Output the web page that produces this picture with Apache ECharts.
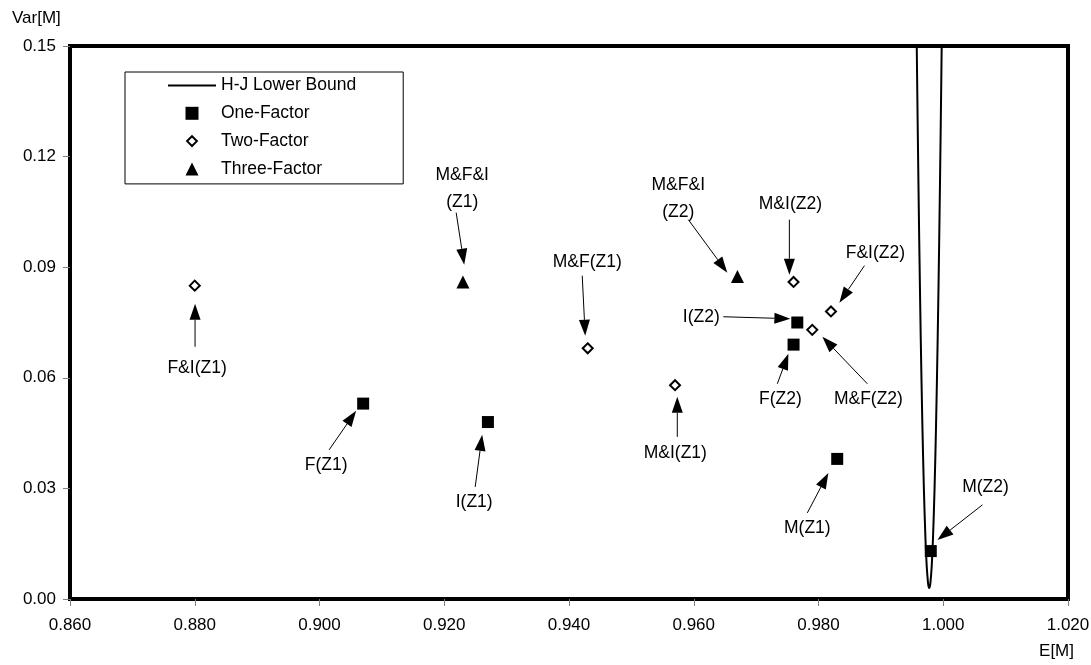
<!DOCTYPE html>
<html><head><meta charset="utf-8">
<script src="https://cdn.jsdelivr.net/npm/echarts@6/dist/echarts.min.js"></script>
<style>html,body{margin:0;padding:0;background:#fff}#c{width:1091px;height:665px}</style>
</head><body><div id="c"></div>
<script>
// ---- axis ticks ----
const xTicks = [0.860, 0.880, 0.900, 0.920, 0.940, 0.960, 0.980, 1.000, 1.020];
const yTicks = [0.00, 0.03, 0.06, 0.09, 0.12, 0.15];

// ---- H-J lower bound ----
const hjE   = [0.99570,0.99590,0.99615,0.99640,0.99665,0.99690,0.99715,0.99735,0.99755,0.99765,0.99775,0.99785,0.99795,0.99815,0.99835,0.99860,0.99885,0.99910,0.99935,0.99960,0.99980];
const hjVar = [0.1574,0.1288,0.0971,0.0700,0.0475,0.0296,0.0162,0.0089,0.0045,0.0034,0.0030,0.0034,0.0045,0.0089,0.0162,0.0296,0.0475,0.0700,0.0971,0.1288,0.1574];

// ---- one-factor models ----
const oneNames = ['F(Z1)','I(Z1)','M(Z1)','F(Z2)','I(Z2)','M(Z2)'];
const oneE     = [0.907, 0.927, 0.983, 0.976, 0.9766, 0.998];
const oneVar   = [0.053, 0.048, 0.038, 0.069, 0.075, 0.013];

// ---- two-factor models ----
const twoNames = ['F&I(Z1)','M&F(Z1)','M&I(Z1)','M&I(Z2)','F&I(Z2)','M&F(Z2)'];
const twoE     = [0.880, 0.943, 0.957, 0.976, 0.982, 0.979];
const twoVar   = [0.085, 0.068, 0.058, 0.086, 0.078, 0.073];

// ---- three-factor models ----
const threeNames = ['M&F&I(Z1)','M&F&I(Z2)'];
const threeE     = [0.923, 0.967];
const threeVar   = [0.086, 0.0875];

// ---- annotation texts & anchors (data units) ----
const noteText  = ['M&F&I\n(Z1)','F&I(Z1)','F(Z1)','I(Z1)','M&F(Z1)','M&I(Z1)','M&F&I\n(Z2)','M&I(Z2)','F&I(Z2)','I(Z2)','F(Z2)','M&F(Z2)','M(Z1)','M(Z2)'];
const noteE     = [0.92288,0.88037,0.90106,0.92480,0.94293,0.95704,0.95752,0.97549,0.98912,0.96121,0.97388,0.98800,0.97821,1.00677];
const noteVar   = [0.11131,0.06272,0.03638,0.02633,0.09149,0.03964,0.10860,0.10697,0.09367,0.07656,0.05430,0.05430,0.01928,0.03041];
const fromE     = [0.92191,0.88005,0.90154,0.92496,0.94212,0.95736,0.95913,0.97533,0.98736,0.96474,0.97340,0.98784,0.97821,1.00628];
const fromVar   = [0.10480,0.06842,0.04045,0.03041,0.08769,0.04398,0.10290,0.10290,0.09041,0.07656,0.05837,0.05837,0.02335,0.02552];
const toE       = [0.92320,0.88005,0.90587,0.92608,0.94260,0.95736,0.96538,0.97533,0.98335,0.97549,0.97517,0.98062,0.98158,0.99907];
const toVar     = [0.09068,0.08009,0.05104,0.04452,0.07140,0.05484,0.08851,0.08796,0.08036,0.07602,0.06652,0.07113,0.03421,0.01602];

const FONT = '"Liberation Sans", Arial, sans-serif';
const zip = (a, b) => a.map((v, i) => [v, b[i]]);

const chart = echarts.init(document.getElementById('c'), null, {renderer: 'canvas'});
chart.setOption({
  animation: false,
  backgroundColor: '#fff',
  grid: {left: 70, right: 23, top: 46, bottom: 66, show: true, borderColor: '#000', borderWidth: 4, outerBoundsMode: 'none', containLabel: false},
  xAxis: {
    type: 'value', min: xTicks[0], max: xTicks[xTicks.length - 1], interval: xTicks[1] - xTicks[0],
    axisLine: {show: true, onZero: false, lineStyle: {color: '#000', width: 4}},
    axisTick: {show: true, length: 7, lineStyle: {color: '#808080', width: 1}},
    axisLabel: {color: '#000', fontSize: 17, fontFamily: FONT, margin: 18, formatter: v => v.toFixed(3)},
    splitLine: {show: false}
  },
  yAxis: {
    type: 'value', min: yTicks[0], max: yTicks[yTicks.length - 1], interval: yTicks[1] - yTicks[0],
    axisLine: {show: true, onZero: false, lineStyle: {color: '#000', width: 4}},
    axisTick: {show: true, length: 7, lineStyle: {color: '#808080', width: 1}},
    axisLabel: {color: '#000', fontSize: 17, fontFamily: FONT, margin: 14, formatter: v => v.toFixed(2)},
    splitLine: {show: false}
  },
  legend: {
    show: true, orient: 'vertical', left: 125, top: 72,
    padding: [4.5, 47, 6, 43], itemWidth: 48, itemHeight: 13, itemGap: 9.8,
    symbolKeepAspect: true,
    backgroundColor: '#fff', borderColor: '#000', borderWidth: 1, borderRadius: 0,
    textStyle: {color: '#000', fontSize: 17.5, fontFamily: FONT},
    data: [
      {name: 'H-J Lower Bound', icon: 'path://M0,0H48V2H0Z', itemStyle: {color: '#000', borderWidth: 0}, lineStyle: {width: 0}},
      {name: 'One-Factor', icon: 'path://M0,0H12V12H0Z', itemStyle: {color: '#000', borderWidth: 0}},
      {name: 'Two-Factor', icon: 'path://M-2,-2L-2,-2M14,14L14,14M6,0L12,6L6,12L0,6Z', itemStyle: {color: '#fff', borderColor: '#000', borderWidth: 2}},
      {name: 'Three-Factor', icon: 'path://M6,0L12,12L0,12Z', itemStyle: {color: '#000', borderWidth: 0}}
    ],
    selectedMode: false
  },
  graphic: [
    {type: 'text', left: 12, top: 10, style: {text: 'Var[M]', fill: '#000', font: '17px ' + FONT}},
    {type: 'text', right: 17, top: 643, style: {text: 'E[M]', fill: '#000', font: '17px ' + FONT}}
  ],
  series: [
    {
      name: 'H-J Lower Bound', type: 'line', data: zip(hjE, hjVar), smooth: 0.3,
      symbol: 'none', showSymbol: false, clip: true,
      lineStyle: {color: '#000', width: 2}, itemStyle: {color: '#000'}, z: 2
    },
    {
      name: 'One-Factor', type: 'scatter', data: zip(oneE, oneVar), symbol: 'rect', symbolSize: 12,
      itemStyle: {color: '#000', opacity: 1}, z: 3
    },
    {
      name: 'Two-Factor', type: 'scatter', data: zip(twoE, twoVar), symbol: 'diamond', symbolSize: 10,
      itemStyle: {color: '#fff', borderColor: '#000', borderWidth: 2, opacity: 1}, z: 3
    },
    {
      name: 'Three-Factor', type: 'scatter', data: zip(threeE, threeVar), symbol: 'triangle', symbolSize: 13,
      itemStyle: {color: '#000', opacity: 1}, z: 3
    },
    {
      name: 'notes', type: 'custom', coordinateSystem: 'cartesian2d', silent: true, z: 4,
      encode: {x: [0, 2, 4], y: [1, 3, 5]},
      data: noteText.map((t, i) => [noteE[i], noteVar[i], fromE[i], fromVar[i], toE[i], toVar[i]]),
      renderItem: function (params, api) {
        const l = api.coord([api.value(0), api.value(1)]);
        const p1 = api.coord([api.value(2), api.value(3)]);
        const p2 = api.coord([api.value(4), api.value(5)]);
        const dx = p2[0] - p1[0], dy = p2[1] - p1[1];
        const len = Math.hypot(dx, dy) || 1, ux = dx / len, uy = dy / len;
        const hl = 16, hw = 5.5;
        const bx = p2[0] - ux * hl, by = p2[1] - uy * hl;
        return {
          type: 'group',
          children: [
            {type: 'line', shape: {x1: p1[0], y1: p1[1], x2: bx, y2: by}, style: {stroke: '#000', lineWidth: 1}},
            {type: 'polygon', shape: {points: [[p2[0], p2[1]], [bx - uy * hw, by + ux * hw], [bx + uy * hw, by - ux * hw]]}, style: {fill: '#000'}},
            {type: 'text', style: {text: noteText[params.dataIndex], x: l[0], y: l[1], align: 'center', verticalAlign: 'middle', font: '17.5px ' + FONT, lineHeight: 27, fill: '#000'}}
          ]
        };
      }
    }
  ]
});
</script>
</body></html>
